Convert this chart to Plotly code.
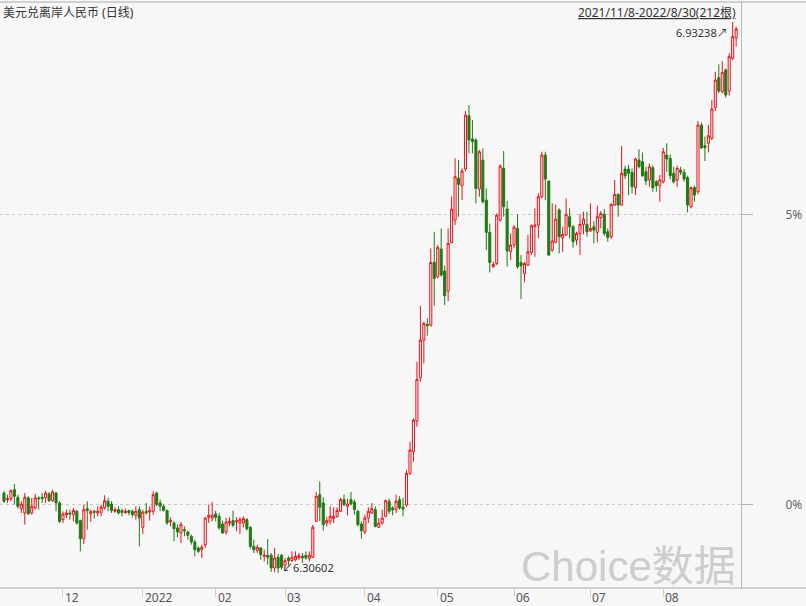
import pandas as pd
import plotly.graph_objects as go

# ---------------- data (USD/CNH daily) ----------------
dates = pd.bdate_range("2021-11-08", "2022-08-30")
x_cat = [d.strftime("%Y-%m-%d") for d in dates]

open_ = [
    6.3969, 6.3894, 6.3905, 6.4007, 6.3920, 6.3791, 6.3742, 6.3913, 6.3742, 6.3799,
    6.3913, 6.3920, 6.3913, 6.3958, 6.3882, 6.3969, 6.3856, 6.3666, 6.3723, 6.3742,
    6.3723, 6.3761, 6.3655, 6.3450, 6.3791, 6.3731, 6.3761, 6.3742, 6.3750, 6.3799,
    6.3875, 6.3844, 6.3761, 6.3780, 6.3769, 6.3746, 6.3769, 6.3761, 6.3716, 6.3780,
    6.3579, 6.3761, 6.3753, 6.3761, 6.3969, 6.3856, 6.3818, 6.3769, 6.3640, 6.3628,
    6.3572, 6.3515, 6.3553, 6.3526, 6.3477, 6.3412, 6.3344, 6.3325, 6.3382, 6.3693,
    6.3685, 6.3731, 6.3704, 6.3617, 6.3526, 6.3628, 6.3655, 6.3640, 6.3628, 6.3628,
    6.3666, 6.3579, 6.3363, 6.3314, 6.3344, 6.3249, 6.3261, 6.3261, 6.3117, 6.3238,
    6.3261, 6.3147, 6.3230, 6.3200, 6.3211, 6.3230, 6.3249, 6.3261, 6.3223, 6.3238,
    6.3647, 6.3950, 6.3856, 6.3628, 6.3647, 6.3678, 6.3704, 6.3761, 6.3894, 6.3818,
    6.3894, 6.3867, 6.3761, 6.3617, 6.3526, 6.3685, 6.3742, 6.3780, 6.3579, 6.3628,
    6.3704, 6.3875, 6.3799, 6.3780, 6.3894, 6.3807, 6.3832, 6.4192, 6.4438, 6.4787,
    6.5279, 6.5707, 6.5886, 6.5878, 6.6590, 6.6428, 6.6742, 6.6492, 6.6265, 6.6814,
    6.7072, 6.7546, 6.7463, 6.7652, 6.8258, 6.7993, 6.7982, 6.7425, 6.7754, 6.7299,
    6.6932, 6.6541, 6.6579, 6.7072, 6.7659, 6.7197, 6.6712, 6.6788, 6.6977, 6.6590,
    6.6466, 6.6560, 6.6704, 6.6996, 6.7015, 6.7337, 6.7811, 6.7516, 6.6731, 6.6818,
    6.7186, 6.6871, 6.6901, 6.7110, 6.6996, 6.6845, 6.6920, 6.7022, 6.7022, 6.6947,
    6.6996, 6.6932, 6.7099, 6.7137, 6.6939, 6.6883, 6.7243, 6.7364, 6.7243, 6.7652,
    6.7652, 6.7614, 6.7440, 6.7754, 6.7735, 6.7622, 6.7527, 6.7667, 6.7508, 6.7463,
    6.7508, 6.7811, 6.7773, 6.7603, 6.7527, 6.7640, 6.7614, 6.7554, 6.7224, 6.7440,
    6.7394, 6.8152, 6.7917, 6.7944, 6.8001, 6.8349, 6.8690, 6.8531, 6.8778, 6.8539,
    6.8910, 6.9145,
]
high_ = [
    6.3988, 6.3950, 6.4007, 6.4072, 6.3950, 6.3875, 6.3969, 6.3932, 6.3913, 6.3958,
    6.3932, 6.3969, 6.3996, 6.3981, 6.4007, 6.3981, 6.3875, 6.3761, 6.3780, 6.3780,
    6.3799, 6.3780, 6.3666, 6.3837, 6.3875, 6.3780, 6.3780, 6.3818, 6.3837, 6.3943,
    6.3913, 6.3875, 6.3807, 6.3818, 6.3791, 6.3791, 6.3780, 6.3780, 6.3818, 6.3818,
    6.3780, 6.3856, 6.3818, 6.3988, 6.3981, 6.3894, 6.3837, 6.3780, 6.3693, 6.3647,
    6.3609, 6.3640, 6.3590, 6.3541, 6.3496, 6.3439, 6.3363, 6.3382, 6.3693, 6.3837,
    6.3867, 6.3769, 6.3742, 6.3655, 6.3685, 6.3693, 6.3769, 6.3693, 6.3693, 6.3704,
    6.3685, 6.3590, 6.3439, 6.3382, 6.3352, 6.3325, 6.3446, 6.3287, 6.3344, 6.3276,
    6.3276, 6.3230, 6.3249, 6.3306, 6.3306, 6.3287, 6.3287, 6.3306, 6.3306, 6.3609,
    6.3981, 6.4102, 6.3920, 6.3693, 6.3818, 6.3807, 6.3807, 6.3913, 6.3950, 6.3905,
    6.3981, 6.3894, 6.3780, 6.3647, 6.3723, 6.3807, 6.3856, 6.3818, 6.3685, 6.3780,
    6.3894, 6.3905, 6.3818, 6.3950, 6.3932, 6.3913, 6.4230, 6.4552, 6.4817, 6.5461,
    6.6098, 6.5916, 6.5954, 6.6750, 6.6939, 6.6788, 6.6977, 6.6553, 6.6977, 6.7337,
    6.7773, 6.7754, 6.7659, 6.8311, 6.8380, 6.8209, 6.8000, 6.7868, 6.7887, 6.7432,
    6.7034, 6.6598, 6.7148, 6.7705, 6.7857, 6.7288, 6.6920, 6.7015, 6.7137, 6.6674,
    6.6598, 6.6901, 6.7022, 6.7205, 6.7375, 6.7849, 6.7849, 6.7516, 6.7262, 6.7250,
    6.7205, 6.6996, 6.7318, 6.7205, 6.7015, 6.6939, 6.7137, 6.7167, 6.7167, 6.7262,
    6.7061, 6.7235, 6.7174, 6.7197, 6.6977, 6.7262, 6.7527, 6.7375, 6.7913, 6.7690,
    6.7697, 6.7659, 6.7781, 6.7876, 6.7841, 6.7678, 6.7716, 6.7697, 6.7527, 6.7584,
    6.7894, 6.7944, 6.7819, 6.7678, 6.7690, 6.7678, 6.7652, 6.7576, 6.7451, 6.7463,
    6.8198, 6.8182, 6.8020, 6.8152, 6.8437, 6.8759, 6.8842, 6.8880, 6.8797, 6.8967,
    6.93238, 6.9270,
]
low_ = [
    6.3856, 6.3856, 6.3875, 6.3837, 6.3791, 6.3742, 6.3609, 6.3723, 6.3723, 6.3780,
    6.3780, 6.3856, 6.3856, 6.3867, 6.3867, 6.3761, 6.3628, 6.3628, 6.3685, 6.3666,
    6.3647, 6.3609, 6.3306, 6.3390, 6.3553, 6.3640, 6.3678, 6.3704, 6.3704, 6.3780,
    6.3761, 6.3742, 6.3742, 6.3723, 6.3704, 6.3731, 6.3716, 6.3693, 6.3666, 6.3363,
    6.3503, 6.3723, 6.3655, 6.3723, 6.3818, 6.3761, 6.3761, 6.3609, 6.3590, 6.3420,
    6.3465, 6.3401, 6.3477, 6.3439, 6.3382, 6.3249, 6.3287, 6.3230, 6.3344, 6.3628,
    6.3647, 6.3647, 6.3553, 6.3503, 6.3496, 6.3590, 6.3579, 6.3534, 6.3503, 6.3579,
    6.3541, 6.3337, 6.3287, 6.3287, 6.3211, 6.3192, 6.3155, 6.3071, 6.3068, 6.30602,
    6.3098, 6.3117, 6.3147, 6.3185, 6.3192, 6.3211, 6.3174, 6.3211, 6.3192, 6.3230,
    6.3640, 6.3647, 6.3541, 6.3590, 6.3609, 6.3628, 6.3685, 6.3753, 6.3818, 6.3716,
    6.3829, 6.3723, 6.3590, 6.3450, 6.3503, 6.3628, 6.3731, 6.3579, 6.3572, 6.3609,
    6.3693, 6.3731, 6.3716, 6.3742, 6.3780, 6.3704, 6.3813, 6.4173, 6.4324, 6.4722,
    6.5234, 6.5442, 6.5757, 6.5859, 6.6098, 6.6409, 6.6428, 6.6105, 6.6151, 6.6807,
    6.7015, 6.7110, 6.7299, 6.7629, 6.7830, 6.7830, 6.7261, 6.7337, 6.7261, 6.6731,
    6.6477, 6.6530, 6.6560, 6.7053, 6.7110, 6.6541, 6.6617, 6.6750, 6.6522, 6.6174,
    6.6363, 6.6553, 6.6674, 6.6655, 6.6864, 6.7318, 6.7299, 6.6667, 6.6712, 6.6807,
    6.6693, 6.6712, 6.6894, 6.6864, 6.6758, 6.6788, 6.6674, 6.6909, 6.6883, 6.6939,
    6.6807, 6.6818, 6.6977, 6.6894, 6.6826, 6.6856, 6.7235, 6.7110, 6.7235, 6.7538,
    6.7356, 6.7375, 6.7356, 6.7659, 6.7565, 6.7470, 6.7451, 6.7394, 6.7394, 6.7280,
    6.7489, 6.7622, 6.7538, 6.7489, 6.7451, 6.7584, 6.7508, 6.7159, 6.7205, 6.7280,
    6.7364, 6.7879, 6.7743, 6.7841, 6.7982, 6.8311, 6.8512, 6.8512, 6.8463, 6.8486,
    6.8891, 6.9043,
]
close_ = [
    6.3875, 6.3905, 6.3996, 6.3932, 6.3818, 6.3844, 6.3920, 6.3731, 6.3818, 6.3913,
    6.3905, 6.3905, 6.3969, 6.3882, 6.3981, 6.3856, 6.3647, 6.3731, 6.3742, 6.3731,
    6.3769, 6.3628, 6.3450, 6.3780, 6.3769, 6.3761, 6.3750, 6.3761, 6.3807, 6.3882,
    6.3818, 6.3769, 6.3780, 6.3742, 6.3746, 6.3761, 6.3746, 6.3723, 6.3761, 6.3685,
    6.3753, 6.3746, 6.3772, 6.3950, 6.3837, 6.3818, 6.3769, 6.3628, 6.3655, 6.3564,
    6.3526, 6.3609, 6.3541, 6.3488, 6.3412, 6.3325, 6.3306, 6.3352, 6.3685, 6.3716,
    6.3716, 6.3693, 6.3572, 6.3515, 6.3640, 6.3647, 6.3602, 6.3655, 6.3666, 6.3678,
    6.3564, 6.3363, 6.3325, 6.3352, 6.3268, 6.3261, 6.3238, 6.3117, 6.3230, 6.3117,
    6.3124, 6.3200, 6.3200, 6.3238, 6.3249, 6.3257, 6.3230, 6.3230, 6.3261, 6.3579,
    6.3932, 6.3807, 6.3609, 6.3655, 6.3704, 6.3704, 6.3769, 6.3894, 6.3837, 6.3844,
    6.3844, 6.3780, 6.3609, 6.3541, 6.3685, 6.3761, 6.3791, 6.3590, 6.3628, 6.3685,
    6.3882, 6.3761, 6.3780, 6.3875, 6.3799, 6.3788, 6.4192, 6.4457, 6.4798, 6.5260,
    6.5707, 6.5897, 6.5870, 6.6590, 6.6409, 6.6761, 6.6447, 6.6212, 6.6807, 6.7197,
    6.7565, 6.7478, 6.7629, 6.8266, 6.7982, 6.7963, 6.7432, 6.7849, 6.7280, 6.6932,
    6.6590, 6.6568, 6.7129, 6.7686, 6.7224, 6.6720, 6.6788, 6.6992, 6.6541, 6.6553,
    6.6579, 6.6712, 6.7007, 6.7015, 6.7337, 6.7811, 6.7538, 6.6674, 6.6833, 6.7083,
    6.6883, 6.6909, 6.7137, 6.6996, 6.6826, 6.6920, 6.7022, 6.7083, 6.6939, 6.6977,
    6.6958, 6.7110, 6.7148, 6.6920, 6.6875, 6.7250, 6.7364, 6.7243, 6.7603, 6.7576,
    6.7603, 6.7451, 6.7766, 6.7678, 6.7576, 6.7516, 6.7678, 6.7440, 6.7463, 6.7527,
    6.7849, 6.7766, 6.7576, 6.7508, 6.7659, 6.7614, 6.7538, 6.7243, 6.7440, 6.7356,
    6.8152, 6.7894, 6.7894, 6.8031, 6.8334, 6.8664, 6.8539, 6.8751, 6.8493, 6.8929,
    6.9157, 6.9244,
]

# month ticks (first trading day of each month) and their labels
month_ticks = ["2021-12-01", "2022-01-03", "2022-02-01", "2022-03-01", "2022-04-01",
               "2022-05-02", "2022-06-01", "2022-07-01", "2022-08-01"]
month_labels = ["12", "2022", "02", "03", "04", "05", "06", "07", "08"]

# right axis: price levels of the 0% and 5% guide lines
pct_tick_prices = [6.3833, 6.7130]
pct_tick_labels = ["0%", "5%"]

title_text = "美元兑离岸人民币 (日线)"
range_text = "2021/11/8-2022/8/30(212根)"
max_text = "6.93238"
min_text = "6.30602"

# ---------------- figure ----------------
BG = "#f7f7f7"
RED = "#e8101a"
GREEN = "#217a12"
FONT = "Noto Sans, Noto Sans CJK SC, sans-serif"

fig = go.Figure(go.Candlestick(
    x=x_cat, open=open_, high=high_, low=low_, close=close_,
    increasing=dict(line=dict(color=RED, width=1), fillcolor=BG),
    decreasing=dict(line=dict(color=GREEN, width=1), fillcolor=GREEN),
    whiskerwidth=0, showlegend=False, hoverinfo="x+y",
))

n = len(x_cat)
fig.update_layout(
    width=806, height=606,
    margin=dict(l=0, r=65, t=2, b=18),
    paper_bgcolor=BG, plot_bgcolor=BG,
    font=dict(family=FONT, size=12, color="#333333"),
    showlegend=False,
    boxgap=0.15,
    xaxis=dict(
        type="category", rangeslider=dict(visible=False),
        range=[-1.15, n + 0.4],
        tickmode="array", tickvals=month_ticks, ticktext=["" for _ in month_labels],
        ticks="outside", ticklen=8, tickcolor="#cfcfcf", tickwidth=1,
        showgrid=False, zeroline=False, showline=False,
    ),
    yaxis=dict(
        side="right", range=[6.2889, 6.9551],
        tickmode="array", tickvals=pct_tick_prices, ticktext=pct_tick_labels,
        ticks="outside", ticklen=11, tickcolor="#b4b4b4", tickwidth=1,
        ticklabelstandoff=30,
        tickfont=dict(size=12, color="#666666"),
        showgrid=True, gridcolor="#c8c8c8", griddash="dot", gridwidth=1,
        zeroline=False, showline=True, linecolor="#b8b8b8", linewidth=1,
    ),
)

# frame lines: top line and bottom axis line spanning the whole width
ext = 806 / 741
fig.add_shape(type="line", xref="paper", yref="paper", x0=-0.01, x1=ext, y0=1, y1=1,
              line=dict(color="#c4c4c4", width=1.5))
fig.add_shape(type="line", xref="paper", yref="paper", x0=-0.01, x1=ext, y0=0, y1=0,
              line=dict(color="#c4c4c4", width=1.5))

ann = []
# month labels, left-aligned after the tick
for t, lab in zip(month_ticks, month_labels):
    ann.append(dict(x=t, xref="x", y=0, yref="paper", text=lab, showarrow=False,
                    xanchor="left", yanchor="top", xshift=0, yshift=1,
                    font=dict(size=12, color="#555555")))
# titles
ann.append(dict(x=0, xref="paper", y=1, yref="paper", text=title_text, showarrow=False,
                xanchor="left", yanchor="middle", xshift=1, yshift=-10,
                font=dict(size=12, color="#333333")))
ann.append(dict(x=1, xref="paper", y=1, yref="paper", text="<u>" + range_text + "</u>",
                showarrow=False, xanchor="right", yanchor="middle", xshift=-3, yshift=-10,
                font=dict(size=12, color="#333333")))
# max / min marks
imax = max(range(n), key=lambda i: high_[i])
imin = min(range(n), key=lambda i: low_[i])
ann.append(dict(x=x_cat[imax], xref="x", y=high_[imax], yref="y", text=max_text + "↗",
                showarrow=False, xanchor="right", yanchor="middle", xshift=-3, yshift=-11,
                font=dict(size=11, color="#333333")))
ann.append(dict(x=x_cat[imin], xref="x", y=low_[imin], yref="y", text="↙" + min_text,
                showarrow=False, xanchor="left", yanchor="middle", xshift=2, yshift=5,
                font=dict(size=11, color="#333333")))
# watermark
ann.append(dict(x=1, xref="paper", y=0, yref="paper", text="Choice数据", showarrow=False,
                xanchor="right", yanchor="bottom", xshift=-3, yshift=-4,
                font=dict(size=42, color="#cdcdcd",
                          family="Liberation Sans, Arial, Noto Sans CJK SC, sans-serif")))
fig.update_layout(annotations=ann)

fig.write_html("out.html",
               config={"displayModeBar": False},
               post_script="document.body.style.margin='0';document.body.style.overflow='hidden';")
